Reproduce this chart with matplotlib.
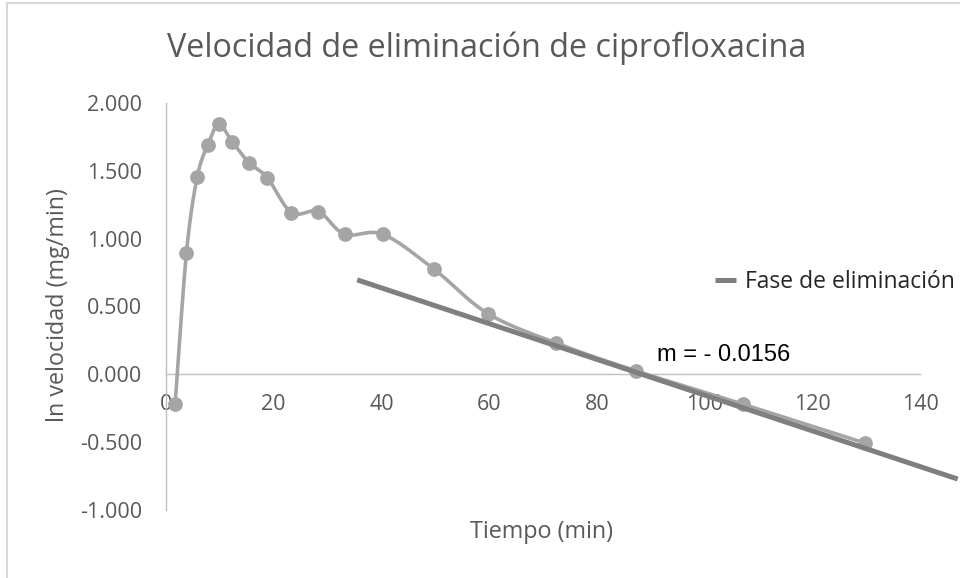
import numpy as np
import matplotlib.pyplot as plt
from matplotlib.lines import Line2D

# datos
tiempo = [1.7, 3.8, 5.8, 7.8, 9.8, 12.3, 15.4, 18.8, 23.3, 28.3, 33.2, 40.3, 49.8,
          59.8, 72.4, 87.3, 107.2, 129.8]
ln_vel = [-0.216, 0.897, 1.455, 1.694, 1.844, 1.713, 1.561, 1.450, 1.192, 1.200,
          1.032, 1.032, 0.774, 0.447, 0.231, 0.025, -0.221, -0.507]

# recta de la fase de eliminacion tal como se ve en el grafico
pendiente_tend = -0.01317
intercepto_tend = 1.164
x_tendencia = [35.5, 147.0]
texto_pendiente = "m = - 0.0156"

xticks = [0, 20, 40, 60, 80, 100, 120, 140]
yticks = [-1.0, -0.5, 0.0, 0.5, 1.0, 1.5, 2.0]

gris_txt = '#595959'
gris_eje = '#bfbfbf'


def suavizar(x, y, n=30):
    # curva tipo Excel (bezier con tangentes catmull-rom)
    p = np.column_stack([x, y])
    p = np.vstack([p[0], p, p[-1]])
    puntos = []
    for i in range(1, len(p) - 2):
        p0, p1, p2, p3 = p[i - 1], p[i], p[i + 1], p[i + 2]
        c1 = p1 + (p2 - p0) / 6
        c2 = p2 - (p3 - p1) / 6
        t = np.linspace(0, 1, n)[:, None]
        b = ((1 - t) ** 3) * p1 + 3 * ((1 - t) ** 2) * t * c1 + 3 * (1 - t) * t ** 2 * c2 + t ** 3 * p2
        puntos.append(b)
    b = np.vstack(puntos)
    return b[:, 0], b[:, 1]


plt.rcParams['font.family'] = ['Open Sans', 'DejaVu Sans']

fig = plt.figure(figsize=(9.6, 5.78), dpi=100)
ax = fig.add_axes([166 / 960, 1 - 510 / 578, 754 / 960, 407 / 578])

xs, ys = suavizar(tiempo, ln_vel)
ax.plot(xs, ys, color='#a5a5a5', lw=2.6, zorder=3, clip_on=False)
ax.plot(tiempo, ln_vel, 'o', color='#a5a5a5', ms=9.6, zorder=4, clip_on=False)

xt = np.array(x_tendencia)
ax.plot(xt, pendiente_tend * xt + intercepto_tend, color='#7f7f7f', lw=3.6, zorder=5,
        clip_on=False, solid_capstyle='butt', label='Fase de eliminación')

ax.text(91.2, 0.14, texto_pendiente, family='Liberation Sans', fontsize=17,
        color='black', ha='left', va='center')

ax.set_xlim(0, 140)
ax.set_ylim(-1, 2)
ax.set_xticks(xticks)
ax.set_yticks(yticks)
ax.set_xticklabels([str(v) for v in xticks])
ax.set_yticklabels([f"{v:.3f}" for v in yticks])
ax.tick_params(length=0, labelsize=15.5, colors=gris_txt)
ax.tick_params(axis='x', pad=14)
ax.tick_params(axis='y', pad=17)

ax.spines['top'].set_visible(False)
ax.spines['right'].set_visible(False)
ax.spines['bottom'].set_position(('data', 0))
for s in ['left', 'bottom']:
    ax.spines[s].set_color(gris_eje)
    ax.spines[s].set_linewidth(1.0)

fig.text(0.507, 1 - 48 / 578, 'Velocidad de eliminación de ciprofloxacina',
         fontsize=23.3, color=gris_txt, ha='center', va='center')
fig.text(58 / 960, 1 - 305 / 578, 'ln velocidad (mg/min)', rotation=90,
         fontsize=16.8, color=gris_txt, ha='center', va='center')
fig.text(542 / 960, 1 - 532 / 578, 'Tiempo (min)', fontsize=16.8,
         color=gris_txt, ha='center', va='center')

leg = ax.legend(loc='center left', bbox_to_anchor=(715 / 960, 1 - 282 / 578),
                bbox_transform=fig.transFigure, frameon=False, fontsize=16.5,
                handlelength=0.9, handletextpad=0.4, borderpad=0, borderaxespad=0)
for t in leg.get_texts():
    t.set_color('#262626')

# borde del area del grafico
fig.add_artist(Line2D([7 / 960, 7 / 960], [0, 1 - 3 / 578], transform=fig.transFigure,
                      color='#d9d9d9', lw=1.5))
fig.add_artist(Line2D([7 / 960, 1], [1 - 3 / 578, 1 - 3 / 578], transform=fig.transFigure,
                      color='#d9d9d9', lw=1.5))

fig.savefig('out.png', dpi=100)
